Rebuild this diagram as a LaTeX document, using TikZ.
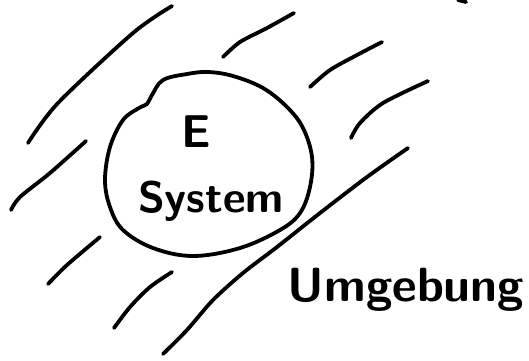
\documentclass[tikz,border=0pt]{standalone}
\usepackage{tikz}
\usetikzlibrary{positioning}

\tikzset{
    pen/.style={line width=3.8pt, line cap=round, line join=round},
    hand/.style={font=\sffamily\bfseries\fontsize{#1}{#1}\selectfont, inner sep=0pt}
}

\begin{document}
\begin{tikzpicture}[x=1pt, y=-1pt]
    \useasboundingbox (0,0) rectangle (529,360);

    % Define coordinates
    \coordinate (Mid) at (207,164);

    % Draw the system boundary
    \draw[pen] plot[smooth cycle, tension=0.6] coordinates {
        (147,104) (152,95) (163,80) (187,74) (208,72) (233,76) (263,88)
        (287,107) (303,128) (312,157) (310,187) (300,213) (280,230)
        (240,248) (193,256) (153,248) (123,230) (110,207) (105,180)
        (110,147) (123,120) (139,108)};

    % Draw the hatching (surroundings)
    \draw[pen] plot[smooth] coordinates {(28,143) (58,103) (133,33) (172,6)};
    \draw[pen] plot[smooth] coordinates {(223,57) (240,42) (267,28) (294,13)};
    \draw[pen] plot[smooth] coordinates {(310,87) (330,70) (357,55) (382,42)};
    \draw[pen] plot[smooth] coordinates {(351,138) (360,123) (383,103) (428,81)};
    \draw[pen] plot[smooth] coordinates {(163,354) (187,330) (213,300) (243,273)
        (277,247) (320,213) (367,177) (408,148)};
    \draw[pen] plot[smooth] coordinates {(11,210) (20,197) (50,173) (86,141)};
    \draw[pen] plot[smooth] coordinates {(48,284) (67,265) (100,237)};
    \draw[pen] plot[smooth] coordinates {(114,328) (130,307) (150,287) (172,272)};
    \draw[pen] (458,0) -- (466,2);

    % Labels
    \node[hand=46] (E) at (196,132) {E};
    \node[hand=44, anchor=base] (System) at (211,212) {System};
    \node[hand=48, anchor=base] (Umgebung) at (406,301) {Umgebung};
\end{tikzpicture}
\end{document}
